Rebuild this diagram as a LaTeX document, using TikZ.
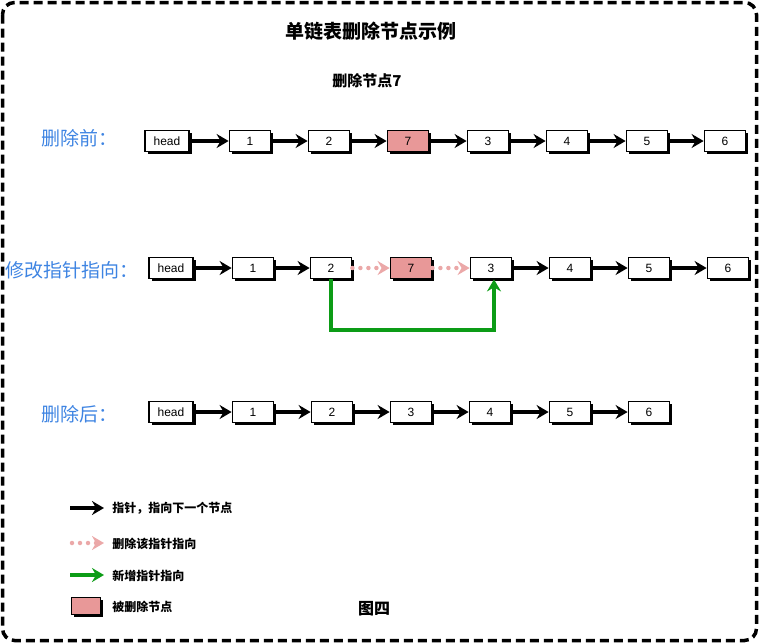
\documentclass[tikz,border=0pt]{standalone}
\usepackage{fontspec}
\setmainfont{Liberation Sans}
\newfontfamily\cjk{Noto Sans CJK SC}
\usetikzlibrary{arrows.meta,shadows}

\definecolor{delpink}{RGB}{232,152,152}
\definecolor{labelblue}{RGB}{62,132,226}
\definecolor{newgreen}{RGB}{12,156,22}

\tikzset{every picture/.style={line width=0.75pt}}
\tikzset{
  listnode/.style={draw,line width=1.8pt,fill=white,minimum width=41pt,minimum height=21pt,inner sep=0pt,
    font=\fontsize{12}{12}\selectfont,
    drop shadow={shadow xshift=2.5pt,shadow yshift=-2.5pt,fill=black,opacity=1}},
  headnode/.style={listnode,minimum width=44pt},
  delnode/.style={listnode,fill=delpink},
  nextptr/.style={-{Stealth[length=12pt,width=14pt,inset=4pt]},line width=4pt},
  oldptr/.style={-{Stealth[length=12pt,width=14pt,inset=4pt]},line width=4.5pt,delpink!85,dash pattern=on 0pt off 8pt,line cap=round},
  newptr/.style={-{Stealth[length=12pt,width=14pt,inset=4pt]},line width=4pt,newgreen},
  rowlabel/.style={font=\cjk\fontsize{19}{19}\selectfont,text=labelblue,anchor=west,inner sep=0pt},
  legendtext/.style={font=\cjk\bfseries\fontsize{12}{12}\selectfont,anchor=west,inner sep=0pt}
}

\begin{document}
\begin{tikzpicture}[x=1pt,y=-1pt]
\useasboundingbox (0,0) rectangle (759,643);
\draw[line width=3.5pt,dash pattern=on 9pt off 5pt,rounded corners=12pt] (2.5,2.5) rectangle (756.5,640.5); % frame

\node[font=\cjk\bfseries\fontsize{19}{19}\selectfont] (title) at (371,31) {单链表删除节点示例};
\node[font=\cjk\bfseries\fontsize{15}{15}\selectfont] (sub) at (367,81) {删除节点7};

% 删除前
\node[rowlabel] (lbefore) at (41,138) {删除前：};
\foreach \x/\t/\s [count=\i from 0] in {167/head/headnode,250/1/listnode,329/2/listnode,408/7/delnode,
    488/3/listnode,567/4/listnode,647/5/listnode,725/6/listnode}
  \node[\s] (a\i) at (\x,141) {\t};
\foreach \i/\j in {0/1,1/2,2/3,3/4,4/5,5/6,6/7}
  \draw[nextptr] (a\i.east) -- (a\j.west);

% 修改指针指向
\node[rowlabel] (lchange) at (5,270) {修改指针指向：};
\foreach \x/\t/\s [count=\i from 0] in {171/head/headnode,253/1/listnode,331/2/listnode,411/7/delnode,
    491/3/listnode,570/4/listnode,649/5/listnode,728/6/listnode}
  \node[\s] (b\i) at (\x,268) {\t};
\foreach \i/\j in {0/1,1/2,4/5,5/6,6/7}
  \draw[nextptr] (b\i.east) -- (b\j.west);
\draw[oldptr] (b2.east) -- (b3.west);
\draw[oldptr] (b3.east) -- (b4.west);
\draw[newptr] (b2.south) -- ++(0,51) -| ([xshift=3pt]b4.south);

% 删除后
\node[rowlabel] (lafter) at (41,414) {删除后：};
\foreach \x/\t/\s [count=\i from 0] in {171/head/headnode,253/1/listnode,332/2/listnode,411/3/listnode,
    490/4/listnode,570/5/listnode,649/6/listnode}
  \node[\s] (c\i) at (\x,412) {\t};
\foreach \i/\j in {0/1,1/2,2/3,3/4,4/5,5/6}
  \draw[nextptr] (c\i.east) -- (c\j.west);

% 图例
\coordinate (k1s) at (70,508); \coordinate (k1e) at (104,508);
\coordinate (k2s) at (72,543); \coordinate (k2e) at (104,543);
\coordinate (k3s) at (70,575); \coordinate (k3e) at (104,575);
\draw[nextptr] (k1s) -- (k1e);
\draw[oldptr] (k2s) -- (k2e);
\draw[newptr] (k3s) -- (k3e);
\node[delnode,minimum width=29pt,minimum height=17pt] (k4) at (86,606) {};
\node[legendtext] (t1) at (112,508) {指针，指向下一个节点};
\node[legendtext] (t2) at (112,544) {删除该指针指向};
\node[legendtext] (t3) at (112,576) {新增指针指向};
\node[legendtext] (t4) at (112,607) {被删除节点};
\node[font=\cjk\bfseries\fontsize{16}{16}\selectfont] (fig) at (374,609) {图四};
\end{tikzpicture}
\end{document}
